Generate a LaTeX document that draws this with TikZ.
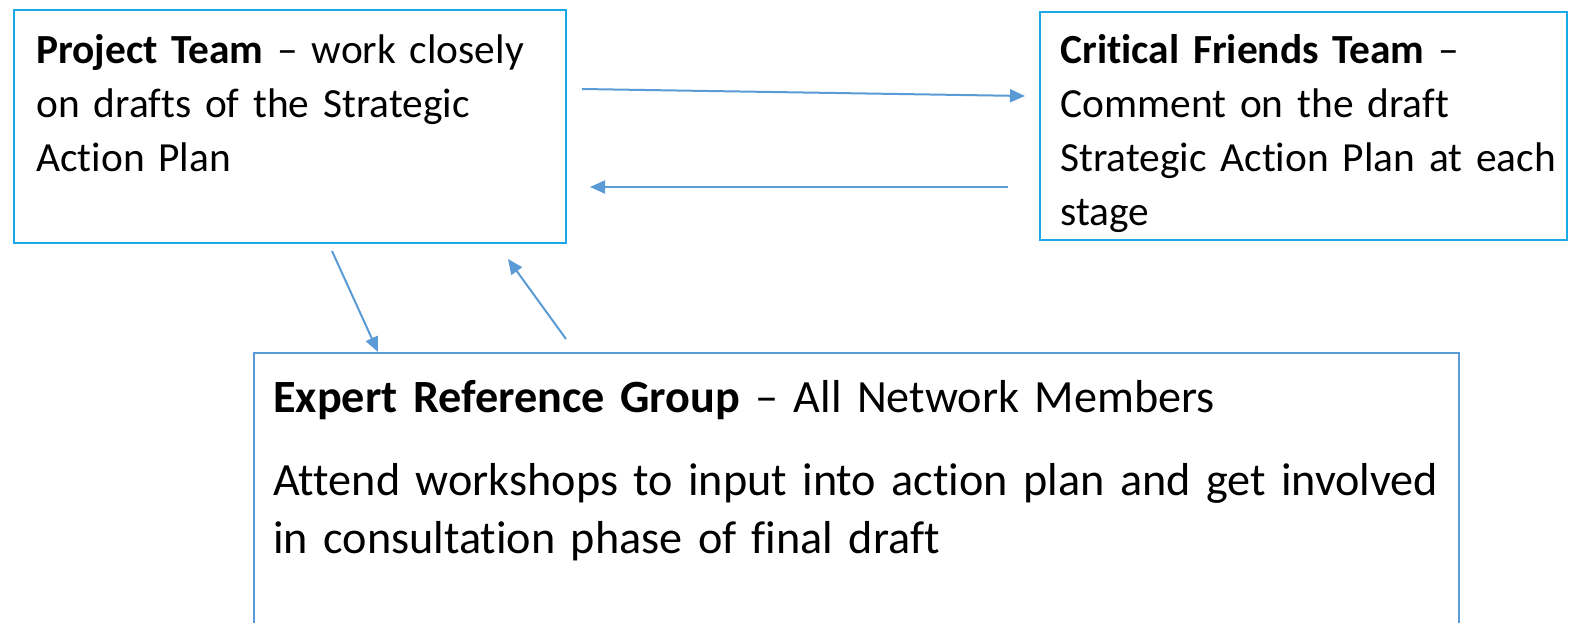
\documentclass[tikz,border=0pt]{standalone}
\usepackage{fontspec}
\setmainfont{Carlito}[Ligatures={NoCommon}]
\usetikzlibrary{arrows.meta,calc}
\definecolor{boxcyan}{HTML}{1CA8E6}
\definecolor{boxblue}{HTML}{5B9BD5}
\definecolor{arrowblue}{HTML}{5B9BD5}
\begin{document}
\begin{tikzpicture}[x=0.5pt,y=-0.5pt,
  box/.style={draw, line width=0.6pt, rectangle, anchor=north west, inner sep=0pt, outer sep=0pt},
  arr/.style={draw=arrowblue, line width=1pt, -{Triangle[length=7.5pt,width=6.5pt]}},
  txtsmall/.style={anchor=base west, inner sep=0pt, align=left, text width=262pt,
    font=\fontsize{20.7pt}{27pt}\selectfont},
  txtbig/.style={anchor=base west, inner sep=0pt, align=left, text width=590pt,
    font=\fontsize{23.1pt}{29pt}\selectfont}]
\clip (0,0) rectangle (1571,622);
\fill[white] (0,0) rectangle (1571,622);
% boxes
\node (pt) [box, draw=boxcyan, minimum width=276pt, minimum height=116.5pt] at (14,10) {};
\node (cf) [box, draw=boxcyan, minimum width=263.5pt, minimum height=114pt] at (1040,12) {};
\node (erg) [box, draw=boxblue, minimum width=602.5pt, minimum height=173.5pt] at (254,353) {};
% texts
\node (ptText) [txtsmall] at (36,63) {\textbf{Project Team} – work closely\\on drafts of the Strategic\\Action Plan};
\node (cfText) [txtsmall] at (1060,63) {\textbf{Critical Friends Team} –\\Comment on the draft\\Strategic Action Plan at each\\stage};
\node (ergHead) [txtbig] at (273,412) {\textbf{Expert Reference Group} – All Network Members};
\node (ergBody) [txtbig] at (273,495) {Attend workshops to input into action plan and get involved\\in consultation phase of final draft};
% connectors
\coordinate (a1) at ($(pt.north east)+(16,79)$);
\coordinate (b1) at ($(cf.north west)+(-15,84)$);
\draw[arr] (a1) -- (b1);
\coordinate (b2) at ($(cf.north west)+(-32,175)$);
\coordinate (a2) at ($(pt.north east)+(24,177)$);
\draw[arr] (b2) -- (a2);
\coordinate (a3) at ($(pt.south west)+(318,8)$);
\coordinate (c3) at ($(erg.north west)+(124,-1)$);
\draw[arr] (a3) -- (c3);
\coordinate (c4) at ($(erg.north west)+(312,-14)$);
\coordinate (a4) at ($(pt.south west)+(494,16)$);
\draw[arr] (c4) -- (a4);
\end{tikzpicture}
\end{document}
